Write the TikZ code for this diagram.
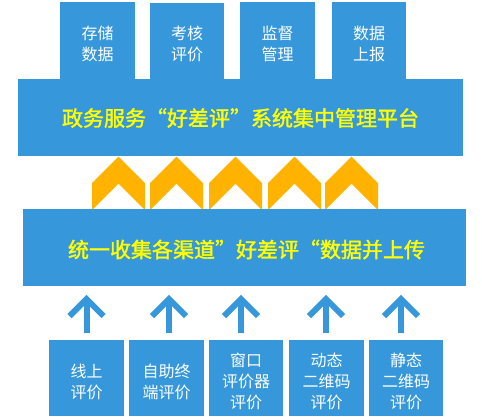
\documentclass[tikz,border=0pt]{standalone}
\usepackage{fontspec}
\setmainfont{Noto Sans CJK SC}
\newfontfamily\ybold{Noto Sans CJK SC}[FakeBold=1.6]
\definecolor{blu}{RGB}{54,152,218}
\definecolor{org}{RGB}{255,178,0}
\definecolor{ylw}{RGB}{255,255,0}
\tikzset{
  box/.style={fill=blu,draw=none,inner sep=0pt},
  boxtext/.style={inner sep=0pt,text=white,align=center,
    font=\fontsize{16}{21}\selectfont},
  bigtext/.style={inner sep=0pt,text=ylw,
    font=\fontsize{21}{25}\selectfont\ybold},
  chev/.style={fill=org,draw=none},
  uparr/.style={draw=blu,line width=6pt,miter limit=10}
}
\begin{document}
\begin{tikzpicture}[x=1pt,y=-1pt]
\useasboundingbox (0,0) rectangle (482,416);
% top boxes
\node[box,minimum width=75pt,minimum height=77pt] (t1) at (97.5,40.5) {};
\node[box,minimum width=74pt,minimum height=76pt] (t2) at (187,41) {};
\node[box,minimum width=75pt,minimum height=77pt] (t3) at (277.5,40.5) {};
\node[box,minimum width=74pt,minimum height=77pt] (t4) at (369,40.5) {};
\node[boxtext] (t1x) at ([yshift=-3pt]t1.center) {存储\\数据};
\node[boxtext] (t2x) at ([yshift=-2.5pt]t2.center) {考核\\评价};
\node[boxtext] (t3x) at ([yshift=-3pt]t3.center) {监督\\管理};
\node[boxtext] (t4x) at ([yshift=-3pt]t4.center) {数据\\上报};
% platform box
\node[box,minimum width=445pt,minimum height=77pt] (plat) at (240.5,117.5) {};
\node[bigtext] (platx) at ([yshift=-0.5pt]plat.center) {政务服务“好差评”系统集中管理平台};
% chevrons
\foreach \cx in {118.5,176.5,235.5,294.5,351.5}{
  \fill[chev] (\cx-26.5,210) -- (\cx-26.5,183) -- (\cx,156.5) -- (\cx+26.5,183)
    -- (\cx+26.5,210) -- (\cx,183.5) -- cycle;
}
% collect box
\node[box,minimum width=443pt,minimum height=77pt] (coll) at (244.5,247.5) {};
\node[bigtext] (collx) at ([xshift=2pt,yshift=-2pt]coll.center) {统一收集各渠道”好差评“数据并上传};
% blue arrows
\foreach \ax in {86.5,169,241,326,401}{
  \draw[uparr] (\ax,333) -- (\ax,298);
  \draw[uparr] (\ax-17,316) -- (\ax,299) -- (\ax+17,316);
}
% bottom boxes
\node[box,minimum width=75pt,minimum height=76pt] (b1) at (86.5,378) {};
\node[box,minimum width=75pt,minimum height=76pt] (b2) at (166.5,378) {};
\node[box,minimum width=74pt,minimum height=76pt] (b3) at (246,378) {};
\node[box,minimum width=75pt,minimum height=76pt] (b4) at (326.5,378) {};
\node[box,minimum width=74pt,minimum height=76pt] (b5) at (406,378) {};
\node[boxtext] (b1x) at ([yshift=-4pt]b1.center) {线上\\评价};
\node[boxtext] (b2x) at ([yshift=-4pt]b2.center) {自助终\\端评价};
\node[boxtext] (b3x) at ([yshift=-3.5pt]b3.center) {窗口\\评价器\\评价};
\node[boxtext] (b4x) at ([yshift=-3.5pt]b4.center) {动态\\二维码\\评价};
\node[boxtext] (b5x) at ([yshift=-3.5pt]b5.center) {静态\\二维码\\评价};
\end{tikzpicture}
\end{document}
